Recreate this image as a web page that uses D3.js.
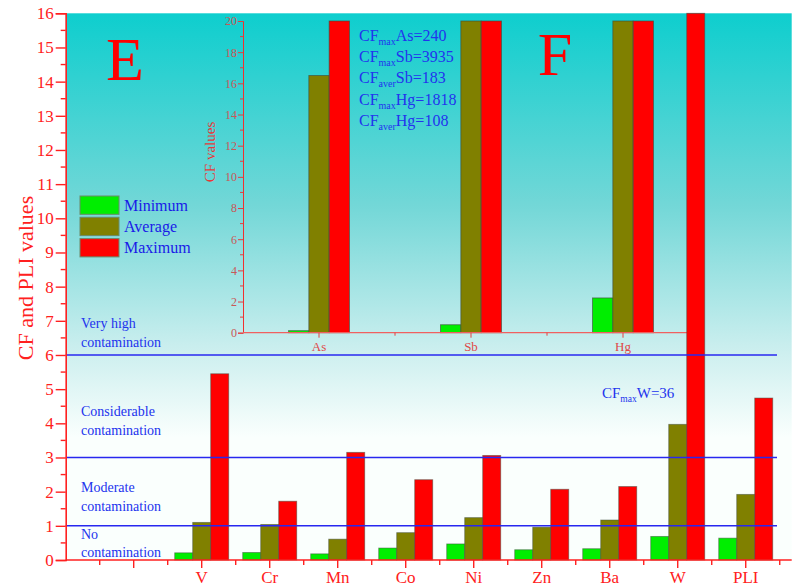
<!DOCTYPE html>
<html><head><meta charset="utf-8">
<script src="https://cdn.jsdelivr.net/npm/d3@7"></script>
<style>
html,body{margin:0;padding:0;background:#fff;}
svg{display:block;font-family:"Liberation Serif","Times New Roman",serif;}
</style></head>
<body><svg id="c" width="803" height="587"></svg>
<script>
// ---- main chart data ----
const categories = ["V","Cr","Mn","Co","Ni","Zn","Ba","W","PLI"];
const minimum = [0.21,0.22,0.18,0.35,0.47,0.30,0.33,0.69,0.64];
const average = [1.10,1.04,0.61,0.80,1.24,0.96,1.17,3.97,1.92];
const maximum = [5.45,1.72,3.15,2.35,3.06,2.07,2.15,36,4.74];
const seriesNames = ["Minimum","Average","Maximum"];
const seriesColors = ["#00EE00","#808000","#FF0000"];
const yTicks = [0,1,2,3,4,5,6,7,8,9,10,11,12,13,14,15,16];
const thresholds = [1,3,6];
const zoneLabels = [
  ["Very high","contamination"],
  ["Considerable","contamination"],
  ["Moderate","contamination"],
  ["No","contamination"]
];
// ---- inset data ----
const insetCategories = ["As","Sb","Hg"];
const insetMinimum = [0.13,0.51,2.23];
const insetAverage = [16.5,183,108];
const insetMaximum = [240,3935,1818];
const insetTicks = [0,2,4,6,8,10,12,14,16,18,20];

// layout (not data)
const zoneLabelAnchors = [6.78, 4.2, 1.98, 0.62];

const svg = d3.select("#c");
const FONT = '"Liberation Serif","Times New Roman",serif';
const RED = "#FF2020";
const BLUE = "#2233EE";

// scales
const x = d3.scaleLinear().domain([-2, 8.676]).range([65.7, 791.7]);
const y = d3.scaleLinear().domain([0,16]).range([560, 13.3]);
const bw = 18;

// background gradient
const defs = svg.append("defs");
const grad = defs.append("linearGradient").attr("id","bg")
  .attr("gradientUnits","userSpaceOnUse").attr("x1",0).attr("x2",0)
  .attr("y1",y(16)).attr("y2",y(3.6));
grad.append("stop").attr("offset","0%").attr("stop-color","#0ECECE");
grad.append("stop").attr("offset","45%").attr("stop-color","#72D7D7");
grad.append("stop").attr("offset","80%").attr("stop-color","#CDEFEF");
grad.append("stop").attr("offset","100%").attr("stop-color","#FAFFFD");
svg.append("rect").attr("x",x.range()[0]).attr("y",y(16))
  .attr("width",x.range()[1]-x.range()[0]).attr("height",y(0)-y(16))
  .attr("fill","url(#bg)");

// ---- inset ----
const xi = d3.scaleLinear().domain([-0.5,2.5]).range([243,699]);
const yi = d3.scaleLinear().domain([0,20]).range([332.7,21]);
const ibw = 20.3;
const inset = svg.append("g");
const insetSeries = [insetMinimum, insetAverage, insetMaximum];
insetSeries.forEach((vals,si)=>{
  inset.selectAll(null).data(vals).join("rect")
    .attr("x",(d,i)=>xi(i) + (si-1.5)*ibw)
    .attr("width",ibw)
    .attr("y",d=>yi(Math.min(d,20)))
    .attr("height",d=>yi(0)-yi(Math.min(d,20)))
    .attr("fill",seriesColors[si])
    .attr("stroke","#3f4f3f").attr("stroke-opacity",0.7).attr("stroke-width",0.9);
});
// inset y axis
const iyAxis = d3.axisLeft(yi).tickValues(insetTicks).tickSize(5).tickFormat(d3.format("d"));
const iyg = inset.append("g").attr("transform",`translate(${xi(-0.5)},0)`).call(iyAxis);
iyg.select(".domain").attr("stroke","#F03030");
iyg.selectAll(".tick line").attr("stroke","#E04040");
iyg.selectAll(".tick text").attr("fill","#C85858").attr("font-family",FONT).attr("font-size",12).attr("x",-6);
inset.append("g").selectAll("line").data(d3.range(1,20,2)).join("line")
  .attr("x1",xi(-0.5)-3).attr("x2",xi(-0.5)).attr("y1",d=>yi(d)).attr("y2",d=>yi(d))
  .attr("stroke","#E04040");
// inset x axis
inset.append("line").attr("x1",xi(-0.5)).attr("x2",xi(2.5)).attr("y1",yi(0)).attr("y2",yi(0))
  .attr("stroke","#F06060").attr("stroke-width",1.2);
inset.selectAll(null).data(insetCategories).join("line")
  .attr("x1",(d,i)=>xi(i)).attr("x2",(d,i)=>xi(i)).attr("y1",yi(0)).attr("y2",yi(0)+5)
  .attr("stroke","#E04040");
inset.selectAll(null).data([0.5,1.5]).join("line")
  .attr("x1",d=>xi(d)).attr("x2",d=>xi(d)).attr("y1",yi(0)).attr("y2",yi(0)+3)
  .attr("stroke","#E04040");
inset.selectAll(null).data(insetCategories).join("text")
  .attr("x",(d,i)=>xi(i)).attr("y",yi(0)+18).attr("text-anchor","middle")
  .attr("font-family",FONT).attr("font-size",13).attr("fill","#E04848").text(d=>d);
inset.append("text").attr("transform",`translate(215,152) rotate(-90)`)
  .attr("text-anchor","middle").attr("font-family",FONT).attr("font-size",15)
  .attr("fill","#E83838").text("CF values");
// inset notes
const notes = [
  ["max","As",insetMaximum[0]],
  ["max","Sb",insetMaximum[1]],
  ["aver","Sb",insetAverage[1]],
  ["max","Hg",insetMaximum[2]],
  ["aver","Hg",insetAverage[2]]
];
notes.forEach((n,i)=>{
  const t = svg.append("text").attr("x",359).attr("y",40.5+i*21.4)
    .attr("font-family",FONT).attr("font-size",16).attr("fill",BLUE);
  t.append("tspan").text("CF");
  t.append("tspan").attr("font-size",10).attr("dy",4).text(n[0]);
  t.append("tspan").attr("dy",-4).text(n[1]+"="+n[2]);
});

// ---- main bars ----
const mainSeries = [minimum, average, maximum];
const barsG = svg.append("g");
mainSeries.forEach((vals,si)=>{
  barsG.selectAll(null).data(vals).join("rect")
    .attr("x",(d,i)=>x(i) + (si-1.5)*bw)
    .attr("width",bw)
    .attr("y",d=>y(Math.min(d,16)))
    .attr("height",d=>y(0)-y(Math.min(d,16)))
    .attr("fill",seriesColors[si])
    .attr("stroke","#3f4f3f").attr("stroke-opacity",0.55).attr("stroke-width",0.9);
});

// threshold lines
svg.append("g").selectAll("line").data(thresholds).join("line")
  .attr("x1",x.range()[0]).attr("x2",777).attr("y1",d=>y(d)).attr("y2",d=>y(d))
  .attr("stroke","#2828F0").attr("stroke-width",1.5);

// zone labels
zoneLabels.forEach((lines,zi)=>{
  const t = svg.append("text").attr("font-family",FONT).attr("font-size",14).attr("fill",BLUE);
  lines.forEach((l,k)=>{
    t.append("tspan").attr("x",81).attr("y",y(zoneLabelAnchors[zi])+k*18.4).text(l);
  });
});

// main y axis
const yAxis = d3.axisLeft(y).tickValues(yTicks).tickSize(10).tickFormat(d3.format("d"));
const yg = svg.append("g").attr("transform",`translate(${x.range()[0]},0)`).call(yAxis);
yg.select(".domain").attr("stroke",RED).attr("stroke-width",1.6);
yg.selectAll(".tick line").attr("stroke",RED).attr("stroke-width",1.4);
yg.selectAll(".tick text").attr("fill",RED).attr("font-family",FONT).attr("font-size",17).attr("x",-12);
svg.append("g").selectAll("line").data(d3.range(0.5,16,1)).join("line")
  .attr("x1",x.range()[0]-5).attr("x2",x.range()[0]).attr("y1",d=>y(d)).attr("y2",d=>y(d))
  .attr("stroke",RED).attr("stroke-width",1.4);

// main x axis
svg.append("line").attr("x1",x.range()[0]).attr("x2",x.range()[1]).attr("y1",y(0)).attr("y2",y(0))
  .attr("stroke",RED).attr("stroke-width",1.6);
const majorX = d3.range(-1,9,1);
const minorX = d3.range(-1.5,9,1);
svg.append("g").selectAll("line").data(majorX).join("line")
  .attr("x1",d=>x(d)).attr("x2",d=>x(d)).attr("y1",y(0)).attr("y2",y(0)+8)
  .attr("stroke",RED).attr("stroke-width",1.4);
svg.append("g").selectAll("line").data(minorX).join("line")
  .attr("x1",d=>x(d)).attr("x2",d=>x(d)).attr("y1",y(0)).attr("y2",y(0)+5)
  .attr("stroke",RED).attr("stroke-width",1.4);
svg.append("g").selectAll("text").data(categories).join("text")
  .attr("x",(d,i)=>x(i)).attr("y",582.5).attr("text-anchor","middle")
  .attr("font-family",FONT).attr("font-size",17).attr("fill",RED).text(d=>d);

// y title
svg.append("text").attr("transform","translate(33,278) rotate(-90)")
  .attr("text-anchor","middle").attr("font-family",FONT).attr("font-size",22)
  .attr("fill",RED).text("CF and PLI values");

// panel letters
svg.append("text").attr("x",125).attr("y",80).attr("text-anchor","middle")
  .attr("font-family",FONT).attr("font-size",62).attr("fill","#FF0000").text("E");
svg.append("text").attr("x",555).attr("y",75).attr("text-anchor","middle")
  .attr("font-family",FONT).attr("font-size",62).attr("fill","#FF0000").text("F");

// W annotation
const wt = svg.append("text").attr("x",602).attr("y",398)
  .attr("font-family",FONT).attr("font-size",15).attr("fill",BLUE);
wt.append("tspan").text("CF");
wt.append("tspan").attr("font-size",9.5).attr("dy",4).text("max");
wt.append("tspan").attr("dy",-4).text(categories[7]+"="+maximum[7]);

// legend
const lg = svg.append("g");
seriesNames.forEach((s,i)=>{
  lg.append("rect").attr("x",80).attr("y",196+i*21.3).attr("width",39).attr("height",18.3)
    .attr("fill",seriesColors[i]).attr("stroke","#6a8a6a").attr("stroke-width",1);
  lg.append("text").attr("x",124).attr("y",205+i*21.3).attr("dy","0.35em")
    .attr("font-family",FONT).attr("font-size",16).attr("fill","#1a1aE8").text(s);
});
</script></body></html>
